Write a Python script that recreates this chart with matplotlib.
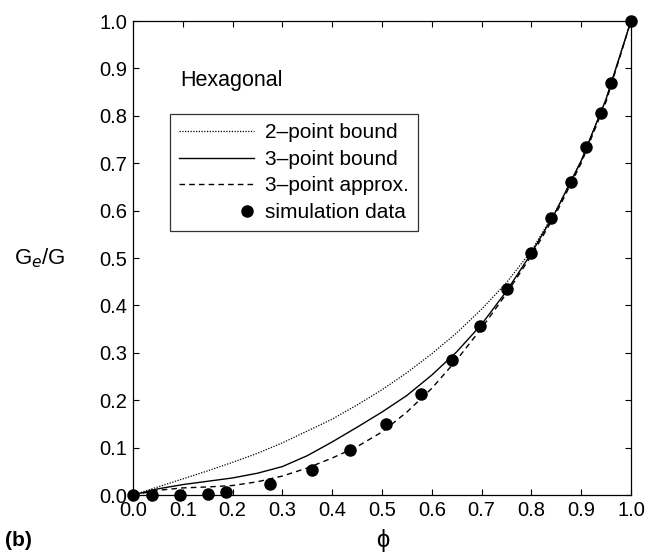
import numpy as np
import matplotlib.pyplot as plt
from matplotlib.legend_handler import HandlerLine2D

plt.rcParams['font.family'] = ['Liberation Sans', 'DejaVu Sans']

# curves
phi = [0, 0.05, 0.1, 0.15, 0.2, 0.25, 0.3, 0.35, 0.4, 0.45, 0.5,
       0.55, 0.6, 0.65, 0.7, 0.75, 0.8, 0.85, 0.9, 0.95, 1.0]
two_pt = [0, 0.017, 0.034, 0.051, 0.069, 0.088, 0.11, 0.135, 0.16, 0.19, 0.222,
          0.258, 0.298, 0.342, 0.392, 0.448, 0.515, 0.602, 0.705, 0.835, 1.0]
three_pt = [0, 0.013, 0.022, 0.029, 0.036, 0.046, 0.06, 0.083, 0.112, 0.143, 0.175,
            0.21, 0.253, 0.302, 0.36, 0.43, 0.51, 0.6, 0.705, 0.835, 1.0]
three_approx = [0, 0.01, 0.015, 0.017, 0.02, 0.028, 0.04, 0.057, 0.078, 0.102, 0.133,
                0.175, 0.225, 0.285, 0.352, 0.425, 0.505, 0.595, 0.70, 0.83, 1.0]

# simulation data
sim_phi = [0.0, 0.038, 0.094, 0.151, 0.187, 0.275, 0.359, 0.435, 0.509, 0.578,
           0.64, 0.697, 0.752, 0.799, 0.84, 0.88, 0.91, 0.94, 0.96, 1.0]
sim_g = [0.0, 0.0, 0.0, 0.003, 0.007, 0.023, 0.053, 0.095, 0.15, 0.214,
         0.285, 0.357, 0.434, 0.51, 0.585, 0.66, 0.735, 0.805, 0.87, 1.0]

ticks = [0.0, 0.1, 0.2, 0.3, 0.4, 0.5, 0.6, 0.7, 0.8, 0.9, 1.0]


# legend marker sits at the right end of the handle, next to the text
class RightMarker(HandlerLine2D):
    def get_xdata(self, legend, xdescent, ydescent, width, height, fontsize):
        xm = -xdescent + width - 5.0
        return np.array([xm - 1.0, xm + 1.0]), np.array([xm])


fig = plt.figure(figsize=(6.47, 5.56), dpi=100)
ax = fig.add_axes([0.2056, 0.1097, 0.7696, 0.8525])

ax.plot(phi, two_pt, color='black', lw=0.9, ls=(0, (1, 1.2)), label='2–point bound')
ax.plot(phi, three_pt, color='black', lw=1.0, ls='-', label='3–point bound')
ax.plot(phi, three_approx, color='black', lw=1.0, ls=(0, (4, 3)), label='3–point approx.')
sim, = ax.plot(sim_phi, sim_g, 'o', color='black', ms=8, label='simulation data', clip_on=False)

ax.set_xlim(0, 1)
ax.set_ylim(0, 1)
ax.set_xticks(ticks)
ax.set_yticks(ticks)
ax.set_xticklabels([f'{t:.1f}' for t in ticks])
ax.set_yticklabels([f'{t:.1f}' for t in ticks])
ax.tick_params(direction='in', top=True, right=True, length=4, width=0.8,
               labelsize=14.5, pad=4)
for s in ax.spines.values():
    s.set_linewidth(0.9)

ax.text(0.094, 0.875, 'Hexagonal', fontsize=15.5, va='center', ha='left')

leg = ax.legend(loc='upper left', bbox_to_anchor=(0.074, 0.804), borderaxespad=0,
                fontsize=15, frameon=True, fancybox=False, edgecolor='black',
                handlelength=3.6, handletextpad=0.5, labelspacing=0.36,
                markerfirst=True, borderpad=0.45, handler_map={sim: RightMarker()})
leg.get_frame().set_linewidth(0.9)

fig.text(0.062, 0.536, 'G$_e$/G', fontsize=16, ha='center', va='center')
fig.text(0.592, 0.028, 'ϕ', fontsize=17, ha='center', va='center')
fig.text(0.008, 0.028, '(b)', fontsize=15, fontweight='bold', ha='left', va='center')

fig.savefig('out.png', dpi=100)
